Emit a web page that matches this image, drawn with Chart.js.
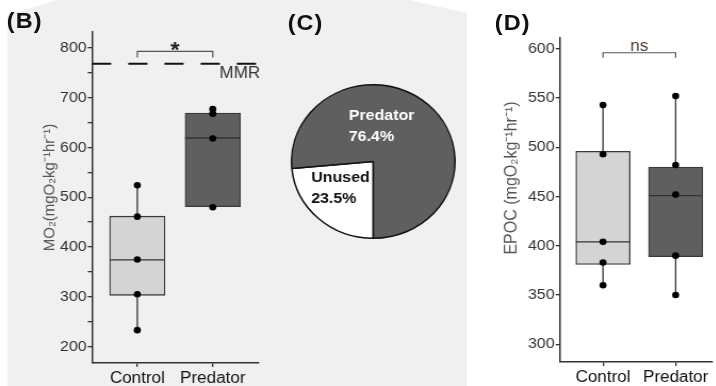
<!DOCTYPE html>
<html>
<head>
<meta charset="utf-8">
<script src="https://cdn.jsdelivr.net/npm/chart.js@4.4.0/dist/chart.umd.min.js"></script>
<style>
  html, body { margin: 0; padding: 0; background: #fff; }
  body { width: 716px; height: 386px; overflow: hidden; position: relative; }
  /* the source figure is stretched horizontally a little */
  #stage { position: absolute; left: 0; top: 0; width: 673px; height: 386px; transform: scaleX(1.065); transform-origin: 0 0; }
  #bg { position: absolute; left: 6.6px; top: 0; width: 432px; height: 386px; background: #f0f0f0;
        clip-path: polygon(0 13px, 7.4px 13px, 47px 0, 378px 0, 432px 13px, 432px 386px, 0 386px); }
  canvas { position: absolute; }
  .tag { position: absolute; font: bold 22px "Liberation Sans", Arial, sans-serif; letter-spacing: 1px; color: #111; line-height: 1; }
</style>
</head>
<body>
<div id="stage">
  <div id="bg"></div>
  <div class="tag" style="left:6.4px; top:10px">(B)</div>
  <div class="tag" style="left:270.2px; top:11.5px">(C)</div>
  <div class="tag" style="left:464.6px; top:11.5px">(D)</div>
  <canvas id="chartB" width="250" height="386" style="left:0; top:0"></canvas>
  <canvas id="chartC" width="155" height="155" style="left:273px; top:84px"></canvas>
  <canvas id="chartD" width="233" height="386" style="left:440px; top:0"></canvas>
</div>
<script>
Chart.defaults.font.family = "'Liberation Sans', Arial, sans-serif";
Chart.defaults.animation = false;
Chart.defaults.plugins.legend.display = false;
Chart.defaults.plugins.tooltip.enabled = false;

const groups = ['Control', 'Predator'];
const boxColors = ['#d4d4d4', '#5f5f5f'];

// (B) MO2, single fish values and box summary [min, q1, median, q3, max]
const mo2Points = [[233, 305, 375, 461, 524], [480, 618, 668, 677]];
const mo2Box = [[233, 303, 374, 462, 524], [480, 481, 619, 669, 677]];
const mmr = 768;
const mo2Ticks = [200, 250, 300, 350, 400, 450, 500, 550, 600, 650, 700, 750, 800];
const mo2TickLabels = ['200', '', '300', '', '400', '', '500', '', '600', '', '700', '', '800'];

// (C) share of aerobic scope
const pieLabels = ['Unused', 'Predator'];
const pieValues = [23.5, 76.4];

// (D) EPOC
const epocPoints = [[543, 493, 404, 383, 360], [552, 482, 452, 390, 350]];
const epocBox = [[360, 381, 404, 496, 543], [350, 389, 451, 480, 552]];
const epocTicks = [300, 350, 400, 450, 500, 550, 600];
const epocTickLabels = ['300', '350', '400', '450', '500', '550', '600'];

// whiskers, medians, bracket, y title
const boxExtras = {
  id: 'boxExtras',
  beforeDatasetsDraw(chart, args, opts) {
    const {ctx, scales: {x, y}} = chart;
    ctx.save();
    ctx.strokeStyle = '#333';
    ctx.lineWidth = 1.3;
    opts.boxes.forEach((b, i) => {
      const px = x.getPixelForValue(i + 1);
      ctx.beginPath();
      ctx.moveTo(px, y.getPixelForValue(b[0]));
      ctx.lineTo(px, y.getPixelForValue(b[1]));
      ctx.moveTo(px, y.getPixelForValue(b[3]));
      ctx.lineTo(px, y.getPixelForValue(b[4]));
      ctx.stroke();
    });
    ctx.restore();
  },
  afterDatasetDraw(chart, args, opts) {
    if (args.index !== 0) return;
    const {ctx, scales: {y}} = chart;
    const bars = args.meta.data;
    ctx.save();
    ctx.strokeStyle = '#333';
    ctx.lineWidth = 1.3;
    opts.boxes.forEach((b, i) => {
      const py = y.getPixelForValue(b[2]);
      ctx.beginPath();
      ctx.moveTo(bars[i].x - bars[i].width / 2, py);
      ctx.lineTo(bars[i].x + bars[i].width / 2, py);
      ctx.stroke();
    });
    ctx.restore();
  },
  afterDraw(chart, args, opts) {
    const {ctx, chartArea, scales: {x, y}} = chart;
    const s = opts.sig;
    const x1 = x.getPixelForValue(1), x2 = x.getPixelForValue(2), py = y.getPixelForValue(s.value);
    ctx.save();
    ctx.strokeStyle = '#555';
    ctx.lineWidth = 1.2;
    ctx.beginPath();
    ctx.moveTo(x1, py + s.leg);
    ctx.lineTo(x1, py);
    ctx.lineTo(x2, py);
    ctx.lineTo(x2, py + s.leg);
    ctx.stroke();
    ctx.fillStyle = s.color;
    ctx.font = s.font;
    ctx.textAlign = 'center';
    ctx.fillText(s.label, (x1 + x2) / 2, py + s.dy);

    if (opts.refLabel) {
      ctx.fillStyle = '#333';
      ctx.font = "16px 'Liberation Sans', Arial, sans-serif";
      ctx.textAlign = 'right';
      ctx.fillText(opts.refLabel.text, chartArea.right + 2, y.getPixelForValue(opts.refLabel.value) + 14);
    }

    const t = opts.yTitle;
    ctx.translate(t.x, (chartArea.top + chartArea.bottom) / 2 + t.dy);
    ctx.rotate(-Math.PI / 2);
    ctx.fillStyle = '#555';
    ctx.font = t.font;
    ctx.textAlign = 'center';
    ctx.textBaseline = 'middle';
    ctx.fillText(t.text, 0, 0);
    ctx.restore();
  }
};

function boxScales(xRange, yRange, ticks, labels, yWidth, xHeight) {
  return {
    x: {
      type: 'linear', min: xRange[0], max: xRange[1], offset: false,
      afterBuildTicks: s => { s.ticks = groups.map((g, i) => ({value: i + 1})); },
      afterFit: s => { s.height = xHeight; },
      ticks: { callback: v => groups[v - 1], autoSkip: false, maxRotation: 0, padding: 2, color: '#111', font: {size: 16} },
      grid: { offset: false, drawOnChartArea: false, tickLength: 4, color: '#333', lineWidth: 1.3 },
      border: { color: '#333', width: 1.5 }
    },
    y: {
      type: 'linear', min: yRange[0], max: yRange[1],
      afterBuildTicks: s => { s.ticks = ticks.map(v => ({value: v})); },
      afterFit: s => { s.width = yWidth; },
      ticks: { callback: (v, i) => labels[i], padding: 1, color: '#333', font: {size: 15} },
      grid: { drawOnChartArea: false, tickLength: 4, color: '#333', lineWidth: 1.3 },
      border: { color: '#333', width: 1.5 }
    }
  };
}

function boxDatasets(points, box, width) {
  return [
    {
      type: 'bar',
      data: box.map((b, i) => ({x: i + 1, y: [b[1], b[3]]})),
      backgroundColor: boxColors,
      borderColor: '#3a3a3a',
      borderWidth: 1.3,
      borderSkipped: false,
      barThickness: width,
      order: 3
    },
    {
      type: 'scatter',
      data: points.flatMap((arr, i) => arr.map(v => ({x: i + 1, y: v}))),
      pointRadius: 3.3,
      pointBackgroundColor: '#000',
      pointBorderWidth: 0,
      order: 1
    }
  ];
}

// (B)
const mo2XRange = [0.4, 2.6];
const dsB = boxDatasets(mo2Points, mo2Box, 52);
dsB.push({
  type: 'line',
  data: [{x: mo2XRange[0], y: mmr}, {x: mo2XRange[1], y: mmr}],
  borderColor: '#111',
  borderWidth: 2,
  borderDash: [18, 16],
  pointRadius: 0,
  order: 2
});
new Chart(document.getElementById('chartB'), {
  type: 'bar',
  data: { datasets: dsB },
  options: {
    responsive: false,
    layout: { padding: {left: 0, right: 7.7, top: 32, bottom: 0} },
    scales: boxScales(mo2XRange, [167, 832], mo2Ticks, mo2TickLabels, 86.4, 23),
    plugins: {
      boxExtras: {
        boxes: mo2Box,
        sig: { value: 793, leg: 6, label: '*', font: "bold 22px 'Liberation Sans', Arial, sans-serif", color: '#222', dy: 6 },
        refLabel: { text: 'MMR', value: mmr },
        yTitle: { text: 'MO₂(mgO₂kg⁻¹hr⁻¹)', x: 47, dy: -10, font: "15px 'Liberation Sans', Arial, sans-serif" }
      }
    }
  },
  plugins: [boxExtras]
});

// (C)
const pieText = {
  id: 'pieText',
  afterDatasetsDraw(chart, args, opts) {
    const {ctx} = chart;
    const arc = chart.getDatasetMeta(0).data[0];
    const r = arc.outerRadius;
    ctx.save();
    ctx.font = "bold 15px 'Liberation Sans', Arial, sans-serif";
    ctx.textAlign = 'left';
    ctx.textBaseline = 'middle';
    opts.items.forEach((it, i) => {
      ctx.fillStyle = it.color;
      ctx.fillText(pieLabels[i], arc.x + it.dx * r, arc.y + it.dy * r);
      ctx.fillText(pieValues[i].toFixed(1) + '%', arc.x + it.dx * r, arc.y + (it.dy + 0.28) * r);
    });
    ctx.restore();
  }
};
new Chart(document.getElementById('chartC'), {
  type: 'pie',
  data: {
    labels: pieLabels,
    datasets: [{
      data: pieValues,
      backgroundColor: ['#ffffff', '#5f5f5f'],
      borderColor: '#111',
      borderWidth: 1.5,
      hoverOffset: 0
    }]
  },
  options: {
    responsive: false,
    rotation: 180,
    layout: { padding: 0 },
    plugins: {
      pieText: {
        items: [
          { dx: -0.76, dy: 0.21, color: '#111' },
          { dx: -0.30, dy: -0.6, color: '#ffffff' }
        ]
      }
    }
  },
  plugins: [pieText]
});

// (D)
new Chart(document.getElementById('chartD'), {
  type: 'bar',
  data: { datasets: boxDatasets(epocPoints, epocBox, 51) },
  options: {
    responsive: false,
    layout: { padding: {left: 0, right: 0.7, top: 38, bottom: 0} },
    scales: boxScales([0.408, 2.507], [282, 611], epocTicks, epocTickLabels, 85.8, 24),
    plugins: {
      boxExtras: {
        boxes: epocBox,
        sig: { value: 596, leg: 5, label: 'ns', font: "16px 'Liberation Sans', Arial, sans-serif", color: '#4a3b33', dy: -1.5 },
        yTitle: { text: 'EPOC (mgO₂kg⁻¹hr⁻¹)', x: 40.8, dy: -22, font: "16px 'Liberation Sans', Arial, sans-serif" }
      }
    }
  },
  plugins: [boxExtras]
});
</script>
</body>
</html>
